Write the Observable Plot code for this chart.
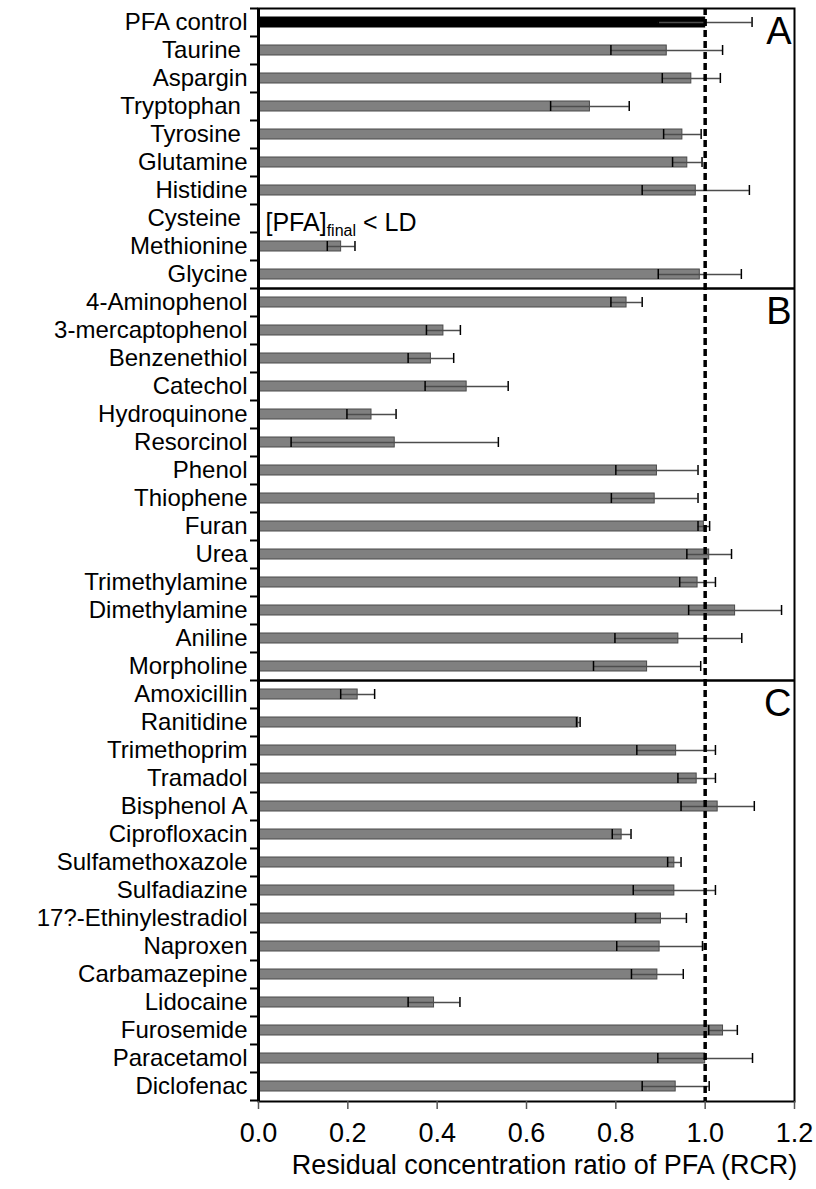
<!DOCTYPE html>
<html><head><meta charset="utf-8">
<script src="https://cdn.jsdelivr.net/npm/d3@7"></script>
<script src="https://cdn.jsdelivr.net/npm/@observablehq/plot@0.6"></script>
<style>body{margin:0;background:#fff;} svg{display:block}</style>
</head><body><div id="chart"></div>
<script>
// Categories (top to bottom)
const categories = ["PFA control","Taurine","Aspargin","Tryptophan","Tyrosine","Glutamine","Histidine","Cysteine","Methionine","Glycine",
  "4-Aminophenol","3-mercaptophenol","Benzenethiol","Catechol","Hydroquinone","Resorcinol","Phenol","Thiophene","Furan","Urea","Trimethylamine","Dimethylamine","Aniline","Morpholine",
  "Amoxicillin","Ranitidine","Trimethoprim","Tramadol","Bisphenol A","Ciprofloxacin","Sulfamethoxazole","Sulfadiazine","17?-Ethinylestradiol","Naproxen","Carbamazepine","Lidocaine","Furosemide","Paracetamol","Diclofenac"];
// Residual concentration ratio (null = below detection limit)
const rcr = [1.000,0.914,0.969,0.742,0.949,0.960,0.979,null,0.185,0.988,
  0.824,0.414,0.386,0.466,0.253,0.305,0.892,0.887,0.997,1.009,0.983,1.067,0.940,0.870,
  0.222,0.716,0.935,0.981,1.028,0.813,0.931,0.931,0.901,0.898,0.893,0.393,1.040,1.000,0.934];
// Error (+/-)
const errs = [0.105,0.125,0.065,0.088,0.042,0.033,0.120,null,0.031,0.093,
  0.035,0.038,0.051,0.093,0.055,0.232,0.092,0.097,0.013,0.050,0.040,0.104,0.142,0.120,
  0.038,0.004,0.088,0.042,0.082,0.021,0.015,0.092,0.057,0.096,0.058,0.058,0.032,0.106,0.075];
const trailingSpace = ["Taurine","Tryptophan","Tyrosine","Cysteine"];
const groupStarts = ["4-Aminophenol","Amoxicillin"];
const groupLabels = [["A","PFA control"],["B","4-Aminophenol"],["C","Amoxicillin"]];
const xTicks = [0,0.2,0.4,0.6,0.8,1.0,1.2];
const xTitle = "Residual concentration ratio of PFA (RCR)";
const ldNote = "[PFA]final < LD";

const data = categories.map((name,i)=>({name, value: rcr[i], err: errs[i]}));
const measured = data.filter(d=>d.value!=null);

const W = 816, H = 1189, mT = 8, mB = 88, mL = 258, mR = 22;
const step = (H - mT - mB) / categories.length;
const font = "'Liberation Sans', Arial, sans-serif";

const chart = Plot.plot({
  width: W, height: H,
  marginTop: mT, marginBottom: mB, marginLeft: mL, marginRight: mR,
  style: {fontFamily: font, background: "white", color: "black"},
  x: {domain: [0, 1.2], ticks: xTicks},
  y: {domain: categories, paddingInner: 0.64, paddingOuter: 0.32, align: 0.5},
  marks: [
    Plot.barX(measured, {x: "value", y: "name",
      fill: d => d.name === "PFA control" ? "black" : "#808080",
      stroke: d => d.name === "PFA control" ? "black" : "#4a4a4a", strokeWidth: 1}),
    Plot.ruleY(measured, {y: "name", x1: d => d.value - d.err, x2: d => d.value + d.err, stroke: "#4d4d4d", strokeWidth: 1.5}),
    Plot.tickX(measured, {y: "name", x: d => d.value - d.err, stroke: "black", strokeWidth: 1.5}),
    Plot.tickX(measured, {y: "name", x: d => d.value + d.err, stroke: "black", strokeWidth: 1.5}),
    Plot.ruleX([1], {stroke: "black", strokeWidth: 3.5, strokeDasharray: "7,4"}),
    Plot.ruleY(groupStarts, {dy: -step/2, stroke: "black", strokeWidth: 2.5}),
    Plot.frame({stroke: "black", strokeWidth: 2}),
    Plot.ruleX([0], {stroke: "black", strokeWidth: 3}),
    Plot.axisY({tickSize: 0, tickPadding: 11, fontSize: 24, label: null,
      tickFormat: d => trailingSpace.includes(d) ? d + "\u00a0" : d}),
    Plot.axisY({tickSize: 8, tickFormat: () => "", label: null, dy: -step/2, strokeWidth: 2}),
    Plot.axisY({ticks: [categories[categories.length-1]], tickSize: 8, tickFormat: () => "", label: null, dy: step/2, strokeWidth: 2}),
    Plot.axisX({ticks: xTicks, tickFormat: d3.format(".1f"), tickSize: 8, tickPadding: 13, fontSize: 27, label: null, stroke: "#555", strokeWidth: 1.5}),
    Plot.text([xTitle], {frameAnchor: "bottom", text: d => d, dy: 72, dx: 18, fontSize: 27}),
    Plot.text(groupLabels, {x: 1.2, y: d => d[1], text: d => d[0], textAnchor: "end", dx: -3, dy: 9, fontSize: 38}),
    Plot.text([ldNote], {x: 0, y: () => "Cysteine", text: d => d, textAnchor: "start", dx: 7, dy: 4, fontSize: 25})
  ]
});

// rich subscript for the LD note
d3.select(chart).selectAll("text").filter(function(){ return this.textContent === ldNote; }).each(function(){
  const t = d3.select(this);
  t.text(null);
  t.append("tspan").text("[PFA]");
  t.append("tspan").attr("font-size", 16).attr("dy", 5).text("final");
  t.append("tspan").attr("dy", -5).text(" < LD");
});

document.getElementById("chart").appendChild(chart);
</script>
</body></html>
